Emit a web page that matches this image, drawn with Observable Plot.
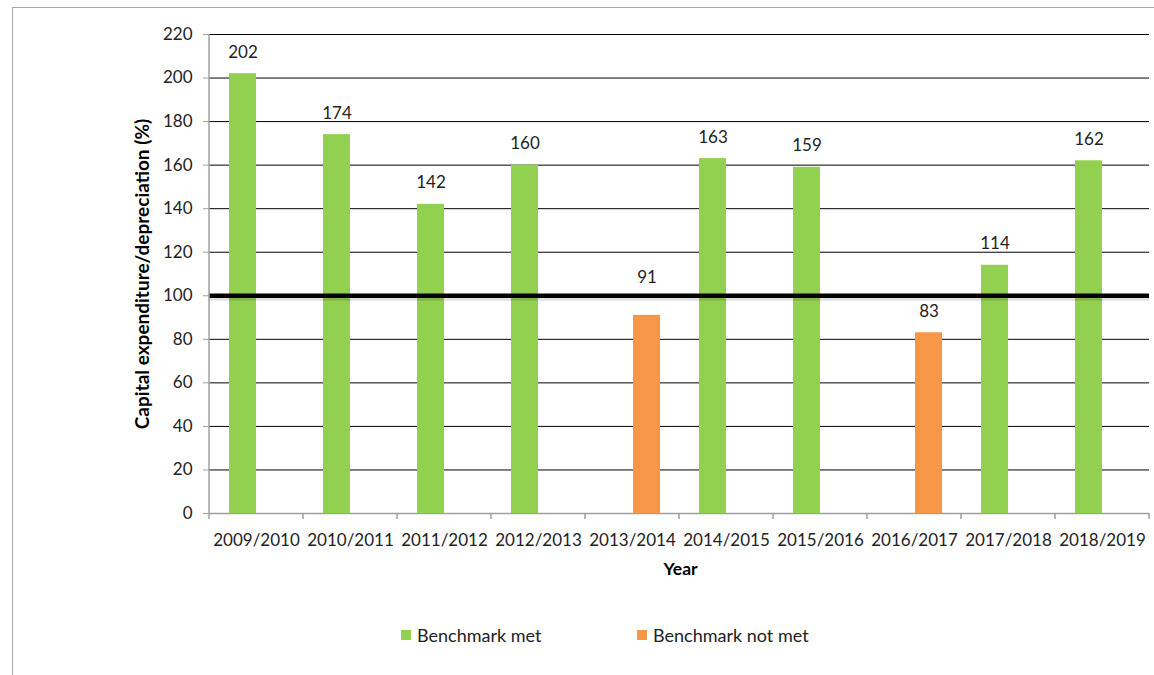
<!DOCTYPE html>
<html>
<head>
<meta charset="utf-8">
<script src="https://cdn.jsdelivr.net/npm/d3@7"></script>
<script src="https://cdn.jsdelivr.net/npm/@observablehq/plot@0.6"></script>
<style>
  html, body { margin: 0; padding: 0; background: #fff; overflow: hidden; }
  #wrap { position: relative; width: 1154px; height: 675px; font-family: Lato, "Open Sans", sans-serif; color: #222; }
  #border { position: absolute; left: 12px; top: 7px; width: 1200px; height: 720px; border: 1px solid #a6a6a6; box-sizing: border-box; }
  #chart { position: absolute; left: 0; top: 0; }
  #legend { position: absolute; top: 623px; left: 0; width: 1154px; height: 24px; font-size: 18px; }
  .item { position: absolute; top: 0; display: flex; align-items: center; height: 24px; }
  .sw { width: 10px; height: 10px; margin-right: 6px; }
</style>
</head>
<body>
<div id="wrap">
  <div id="border"></div>
  <div id="chart"></div>
  <div id="legend"></div>
</div>
<script>
const years = ["2009/2010","2010/2011","2011/2012","2012/2013","2013/2014","2014/2015","2015/2016","2016/2017","2017/2018","2018/2019"];
const values = [202, 174, 142, 160, 91, 163, 159, 83, 114, 162];
const statuses = ["Benchmark met","Benchmark met","Benchmark met","Benchmark met","Benchmark not met","Benchmark met","Benchmark met","Benchmark not met","Benchmark met","Benchmark met"];
const series = ["Benchmark met", "Benchmark not met"];
const colors = ["#92D050", "#F79646"];
const yTicks = [0, 20, 40, 60, 80, 100, 120, 140, 160, 180, 200, 220];
const benchmark = [100];
const yTitle = "Capital expenditure/depreciation (%)";
const xTitle = "Year";
// label lifted above the benchmark line in the original
const liftedLabelYears = ["2013/2014"];

const data = years.map((year, i) => ({year, value: values[i], series: statuses[i]}));
const normalLabels = data.filter(d => !liftedLabelYears.includes(d.year));
const liftedLabels = data.filter(d => liftedLabelYears.includes(d.year));

const plot = Plot.plot({
  width: 1154,
  height: 600,
  marginLeft: 207,
  marginRight: 3,
  marginTop: 34,
  marginBottom: 87,
  style: {fontFamily: "Lato, 'Open Sans', sans-serif", background: "transparent", color: "#222"},
  fx: {domain: years, padding: 0},
  x: {domain: series, axis: null, paddingInner: 0.05, paddingOuter: 0.68},
  y: {domain: [0, 220], axis: null},
  color: {domain: series, range: colors},
  marks: [
    Plot.gridY(yTicks, {stroke: "#000", strokeOpacity: 1, strokeWidth: 1}),
    Plot.ruleY([0], {stroke: "#a0a0a0", strokeWidth: 1.5}),
    Plot.barY(data, {fx: "year", x: "series", y: "value", fill: "series"}),
    Plot.text(normalLabels, {fx: "year", x: "series", y: "value", text: d => String(d.value), lineAnchor: "bottom", dy: -16, fontSize: 17, fill: "#222"}),
    Plot.text(liftedLabels, {fx: "year", x: "series", y: "value", text: d => String(d.value), lineAnchor: "bottom", dy: -32, fontSize: 17, fill: "#222"}),
    Plot.ruleY(benchmark, {stroke: "#000", strokeOpacity: 0.12, strokeWidth: 4, dy: 3}),
    Plot.ruleY(benchmark, {stroke: "#000", strokeWidth: 4.5}),
    Plot.axisY(yTicks, {anchor: "left", tickSize: 6, tickPadding: 11, stroke: "#a0a0a0", fill: "#222", fontSize: 17, label: null}),
    Plot.axisFx({anchor: "bottom", tickSize: 0, tickPadding: 20, fontSize: 17, fill: "#222", label: null}),
    Plot.text([yTitle], {fx: [years[0]], frameAnchor: "left", dx: -67, rotate: -90, textAnchor: "middle", text: d => d, fontSize: 19, fontWeight: "bold", fill: "#000"}),
    Plot.text([xTitle], {fx: [years[4]], frameAnchor: "bottom-right", dx: 1, dy: 61, textAnchor: "middle", text: d => d, fontSize: 17.5, fontWeight: "bold", fill: "#000"})
  ]
});

// y-axis line and category boundary ticks, positioned from the plot's own scales
const fx = plot.scale("fx");
const y = plot.scale("y");
const svg = d3.select(plot.tagName === "svg" ? plot : plot.querySelector("svg"));
const xs = years.map(v => fx.apply(v));
const left = xs[0];
const step = fx.step || fx.bandwidth;
const bounds = xs.concat([xs[xs.length - 1] + step]);
const g = svg.append("g").attr("stroke", "#a0a0a0").attr("stroke-width", 1.5);
g.append("line").attr("x1", left).attr("x2", left).attr("y1", y.apply(220)).attr("y2", y.apply(0));
bounds.forEach(b => g.append("line").attr("x1", b).attr("x2", b).attr("y1", y.apply(0)).attr("y2", y.apply(0) + 6));

document.getElementById("chart").appendChild(plot);

const legendPos = [401, 637];
const legend = document.getElementById("legend");
series.forEach((s, i) => {
  const item = document.createElement("div");
  item.className = "item";
  item.style.left = legendPos[i] + "px";
  item.innerHTML = `<span class="sw" style="background:${colors[i]}"></span><span>${s}</span>`;
  legend.appendChild(item);
});
</script>
</body>
</html>
